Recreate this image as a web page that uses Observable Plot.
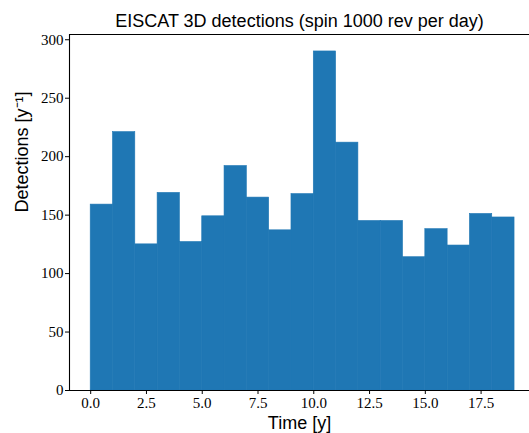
<!DOCTYPE html>
<html><head><meta charset="utf-8">
<script src="https://cdn.jsdelivr.net/npm/d3@7"></script>
<script src="https://cdn.jsdelivr.net/npm/@observablehq/plot@0.6"></script>
<style>body{margin:0;background:#fff}</style>
</head><body><div id="chart"></div>
<script>
const binStart = [0,1,2,3,4,5,6,7,8,9,10,11,12,13,14,15,16,17,18];
const binEnd   = [1,2,3,4,5,6,7,8,9,10,11,12,13,14,15,16,17,18,19];
const detections = [159,221,125,169,127,149,192,165,137,168,290,212,145,145,114,138,124,151,148];
const xTicks = [0,2.5,5,7.5,10,12.5,15,17.5];
const yTicks = [0,50,100,150,200,250,300];
const title = "EISCAT 3D detections (spin 1000 rev per day)";
const xLabel = "Time [y]";
const yLabel = "Detections [y⁻¹]";

const data = binStart.map((s,i)=>({x1:s,x2:binEnd[i],y:detections[i]}));
const xDom = [-0.95, 19.67];
const yDom = [0, 304.5];
const sans = "Liberation Sans";
const serif = "Liberation Serif";

const chart = Plot.plot({
  width: 529, height: 433,
  marginLeft: 69, marginRight: 0, marginTop: 34, marginBottom: 43,
  style: {fontFamily: serif, fontSize: "15px", color: "#000", background: "#fff", overflow: "visible"},
  x: {domain: xDom},
  y: {domain: yDom},
  marks: [
    Plot.rectY(data, {x1:"x1", x2:"x2", y:"y", fill:"#1f77b4", stroke:"#1f77b4", strokeWidth:0.6, inset:0}),
    Plot.axisX({ticks: xTicks, tickFormat: d3.format(".1f"), tickSize: 4, tickPadding: 3, label: null, fontFamily: serif, fontSize: 15, stroke:"#000"}),
    Plot.axisY({ticks: yTicks, tickFormat: d3.format("d"), tickSize: 4, tickPadding: 2, label: null, fontFamily: serif, fontSize: 15, stroke:"#000"}),
    Plot.ruleY([0], {stroke:"#000", strokeWidth:1.1}),
    Plot.ruleY([yDom[1]], {stroke:"#000", strokeWidth:1.1}),
    Plot.ruleX([xDom[0]], {stroke:"#000", strokeWidth:1.1}),
    Plot.text([title], {frameAnchor:"top", dy:-13, fontFamily:sans, fontSize:18, fill:"#000", text:d=>d, lineAnchor:"middle"}),
    Plot.text([xLabel], {frameAnchor:"bottom", dy:33, fontFamily:sans, fontSize:18, fill:"#000", text:d=>d, lineAnchor:"middle"}),
    Plot.text([yLabel], {frameAnchor:"left", dx:-47, rotate:-90, fontFamily:sans, fontSize:18, fill:"#000", text:d=>d, lineAnchor:"middle"})
  ]
});
document.getElementById("chart").appendChild(chart);
</script></body></html>
